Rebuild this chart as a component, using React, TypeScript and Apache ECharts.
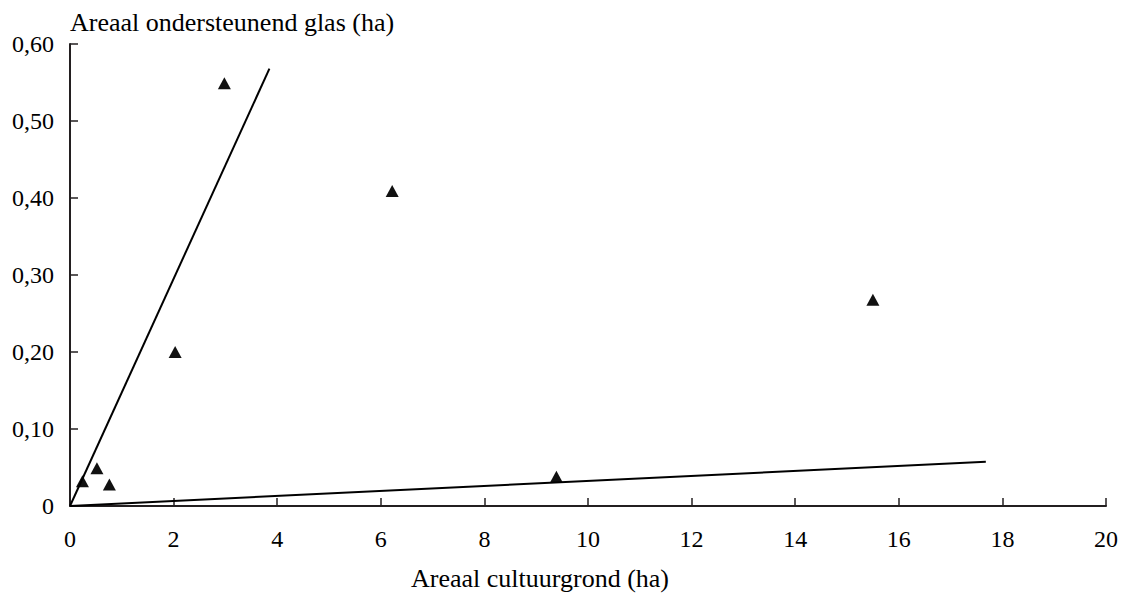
import React, { useEffect, useRef } from "react";
import * as echarts from "echarts";

const xTicks = { min: 0, max: 20, interval: 2 };
const yTicks = { min: 0, max: 0.6, interval: 0.1 };
const pointsX = [0.24, 0.52, 0.76, 2.03, 2.98, 6.22, 9.39, 15.5];
const pointsY = [0.032, 0.049, 0.028, 0.2, 0.549, 0.409, 0.038, 0.268];
const steepLine = [[0, 0], [3.85, 0.568]];
const flatLine = [[0, 0], [17.68, 0.0575]];
const xName = "Areaal cultuurgrond (ha)";
const yName = "Areaal ondersteunend glas (ha)";

const FONT = "'Liberation Serif', 'Times New Roman', serif";

export default function App() {
  const ref = useRef<HTMLDivElement>(null);
  useEffect(() => {
    if (!ref.current) return;
    const chart = echarts.init(ref.current, null, { renderer: "svg" });
    chart.setOption({
      animation: false,
      backgroundColor: "#ffffff",
      grid: { left: 70, right: 21, top: 44, bottom: 91, containLabel: false, outerBoundsMode: "none" },
      xAxis: {
        type: "value",
        min: xTicks.min,
        max: xTicks.max,
        interval: xTicks.interval,
        name: xName,
        nameLocation: "middle",
        nameGap: 59,
        nameTextStyle: { fontFamily: FONT, fontSize: 26, color: "#000", padding: [0, 96, 0, 0] },
        axisLine: { lineStyle: { color: "#231f20", width: 2 } },
        axisTick: { inside: true, length: 8, lineStyle: { color: "#231f20", width: 1.5 } },
        axisLabel: { fontFamily: FONT, fontSize: 24, color: "#000", margin: 21 },
        splitLine: { show: false },
      },
      yAxis: {
        type: "value",
        min: yTicks.min,
        max: yTicks.max,
        interval: yTicks.interval,
        name: yName,
        nameLocation: "end",
        nameGap: 22,
        nameTextStyle: { fontFamily: FONT, fontSize: 26, color: "#000", align: "left", verticalAlign: "middle" },
        axisLine: { lineStyle: { color: "#231f20", width: 2 } },
        axisTick: { inside: true, length: 8, lineStyle: { color: "#231f20", width: 1.5 } },
        axisLabel: {
          fontFamily: FONT,
          fontSize: 24,
          color: "#000",
          margin: 16,
          formatter: (v: number) => (v === 0 ? "0" : v.toFixed(2).replace(".", ",")),
        },
        splitLine: { show: false },
      },
      series: [
        {
          type: "line",
          data: steepLine,
          symbol: "none",
          lineStyle: { color: "#000", width: 2 },
        },
        {
          type: "line",
          data: flatLine,
          symbol: "none",
          lineStyle: { color: "#000", width: 2 },
        },
        {
          type: "scatter",
          data: pointsX.map((x, i) => [x, pointsY[i]]),
          symbol: "triangle",
          symbolSize: [13, 12],
          itemStyle: { color: "#111", opacity: 1 },
        },
      ],
    });
    return () => chart.dispose();
  }, []);
  return <div ref={ref} style={{ width: 1127, height: 597, position: "absolute", left: 0, top: 0 }} />;
}
